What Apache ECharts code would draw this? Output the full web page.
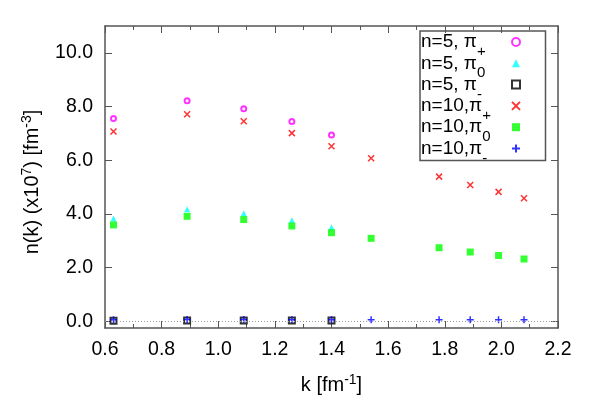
<!DOCTYPE html>
<html>
<head>
<meta charset="utf-8">
<script src="https://cdn.jsdelivr.net/npm/echarts@6/dist/echarts.min.js"></script>
<style>
  html, body { margin: 0; padding: 0; background: #fff; }
</style>
</head>
<body>
<div id="main" style="width: 598px;height:419px;"></div>
<script>
// momentum grid points (fm^-1)
var kN5 = [0.63, 0.89, 1.09, 1.26, 1.40]
var kN10 = [0.63, 0.89, 1.09, 1.26, 1.40, 1.54, 1.78, 1.89, 1.99, 2.08]

// n(k) in units of 1e7 fm^-3
var n5PiPlus = [7.55, 8.22, 7.92, 7.44, 6.94]
var n5PiZero = [3.83, 4.17, 4.02, 3.76, 3.50]
var n5PiMinus = [0.02, 0.03, 0.03, 0.03, 0.03]
var n10PiPlus = [7.07, 7.71, 7.45, 7.01, 6.52, 6.07, 5.39, 5.08, 4.82, 4.58]
var n10PiZero = [3.59, 3.91, 3.79, 3.55, 3.30, 3.09, 2.74, 2.58, 2.45, 2.32]
var n10PiMinus = [0.06, 0.07, 0.07, 0.06, 0.06, 0.06, 0.06, 0.06, 0.06, 0.06]

var yTicks = [0, 2, 4, 6, 8, 10]
var seriesNames = ['n=5, π+', 'n=5, π0', 'n=5, π-', 'n=10,π+', 'n=10,π0', 'n=10,π-']

function pairs(xs, ys) {
  return xs.map(function (x, i) { return [x, ys[i]] })
}

var FONT = 'Liberation Sans'
var AXIS_COLOR = '#555'
var crossPath = 'path://M0,0L10,10M10,0L0,10'
var plusPath = 'path://M5,0L5,10M0,5L10,5'

// superscript style for axis names
var supRich = { sup: { fontSize: 14, height: 12, lineHeight: 12, verticalAlign: 'top', fontFamily: FONT, color: '#000' } }

var myChart = echarts.init(document.getElementById('main'))

function mirrorAxis() {
  return {
    type: 'value',
    axisLine: { show: true, onZero: false, lineStyle: { color: AXIS_COLOR, width: 1.5 } },
    axisLabel: { show: false },
    splitLine: { show: false }
  }
}

var option = {
  animation: false,
  backgroundColor: '#fff',
  textStyle: { fontFamily: FONT },
  grid: { left: 105, right: 40, top: 26, bottom: 91 },
  legend: {
    orient: 'vertical',
    left: 420,
    top: 31,
    align: 'right',
    padding: [0, 23, -5.5, 1],
    itemGap: -7.2,
    itemWidth: 8,
    itemHeight: 8,
    borderColor: AXIS_COLOR,
    borderWidth: 1.5,
    data: seriesNames,
    formatter: function (name) {
      return '{m|' + name.slice(0, -1) + '}{s|' + name.slice(-1) + '}'
    },
    textStyle: {
      fontFamily: FONT,
      fontSize: 19,
      color: '#000',
      lineHeight: 22,
      width: 86,
      rich: {
        m: { align: 'left', fontSize: 19, fontFamily: FONT, color: '#000' },
        s: { align: 'left', fontSize: 15, height: 2, lineHeight: 2, verticalAlign: 'bottom', fontFamily: FONT, color: '#000' }
      }
    }
  },
  xAxis: [
    {
      type: 'value',
      min: 0.6,
      max: 2.2,
      interval: 0.2,
      name: 'k [fm{sup|-1}]',
      nameLocation: 'middle',
      nameGap: 46,
      nameTextStyle: { fontFamily: FONT, fontSize: 20, color: '#000', lineHeight: 22, rich: supRich },
      axisLine: { show: true, onZero: false, lineStyle: { color: AXIS_COLOR, width: 1.5 } },
      axisTick: { show: true, inside: true, length: 7, lineStyle: { color: AXIS_COLOR } },
      minorTick: { show: true, splitNumber: 2, length: 4, lineStyle: { color: AXIS_COLOR } },
      axisLabel: {
        fontFamily: FONT, fontSize: 19.5, color: '#000', margin: 12,
        formatter: function (v) { return v.toFixed(1) }
      },
      splitLine: { show: false }
    },
    Object.assign(mirrorAxis(), {
      position: 'top',
      min: 0.6,
      max: 2.2,
      interval: 0.2,
      axisTick: { show: true, inside: true, length: 7, lineStyle: { color: AXIS_COLOR } },
      minorTick: { show: true, splitNumber: 2, length: 4, lineStyle: { color: AXIS_COLOR } }
    })
  ],
  yAxis: [
    {
      type: 'value',
      min: -0.25,
      max: 11,
      name: 'n(k) (x10{sup|7}) [fm{sup|-3}]',
      nameLocation: 'middle',
      nameRotate: 90,
      nameGap: 62,
      nameTextStyle: { fontFamily: FONT, fontSize: 20, color: '#000', lineHeight: 22, padding: [0, 10, 0, 0], rich: supRich },
      axisLine: { show: true, onZero: false, lineStyle: { color: AXIS_COLOR, width: 1.5 } },
      axisTick: { show: true, inside: true, length: 7, customValues: yTicks, lineStyle: { color: AXIS_COLOR } },
      axisLabel: {
        fontFamily: FONT, fontSize: 19.5, color: '#000', margin: 12,
        customValues: yTicks,
        formatter: function (v) { return v.toFixed(1) }
      },
      splitLine: { show: false }
    },
    Object.assign(mirrorAxis(), {
      position: 'right',
      min: -0.25,
      max: 11,
      axisTick: { show: true, inside: true, length: 7, customValues: yTicks, lineStyle: { color: AXIS_COLOR } },
      axisLabel: { show: false, customValues: yTicks }
    })
  ],
  series: [
    {
      name: seriesNames[0], type: 'scatter', symbol: 'emptyCircle', symbolSize: 5,
      itemStyle: { color: '#ff00ff', borderColor: '#ff00ff', borderWidth: 1.2 },
      data: pairs(kN5, n5PiPlus),
      markLine: {
        silent: true, symbol: 'none', label: { show: false },
        lineStyle: { color: '#999', type: [1, 2], width: 1 },
        data: [{ yAxis: 0 }]
      }
    },
    {
      name: seriesNames[1], type: 'scatter', symbol: 'triangle', symbolSize: 6,
      itemStyle: { color: '#00ffff' },
      data: pairs(kN5, n5PiZero)
    },
    {
      name: seriesNames[2], type: 'scatter', symbol: 'emptyRect', symbolSize: 6,
      itemStyle: { color: '#000', borderColor: '#000', borderWidth: 1.2 },
      data: pairs(kN5, n5PiMinus)
    },
    {
      name: seriesNames[3], type: 'scatter', symbol: crossPath, symbolSize: 6,
      itemStyle: { color: 'none', borderColor: '#ff0000', borderWidth: 1.5 },
      data: pairs(kN10, n10PiPlus)
    },
    {
      name: seriesNames[4], type: 'scatter', symbol: 'rect', symbolSize: 7,
      itemStyle: { color: '#00ff00' },
      data: pairs(kN10, n10PiZero)
    },
    {
      name: seriesNames[5], type: 'scatter', symbol: plusPath, symbolSize: 7,
      itemStyle: { color: 'none', borderColor: '#0000ff', borderWidth: 1.5 },
      data: pairs(kN10, n10PiMinus)
    }
  ]
}

myChart.setOption(option)
</script>
</body>
</html>
